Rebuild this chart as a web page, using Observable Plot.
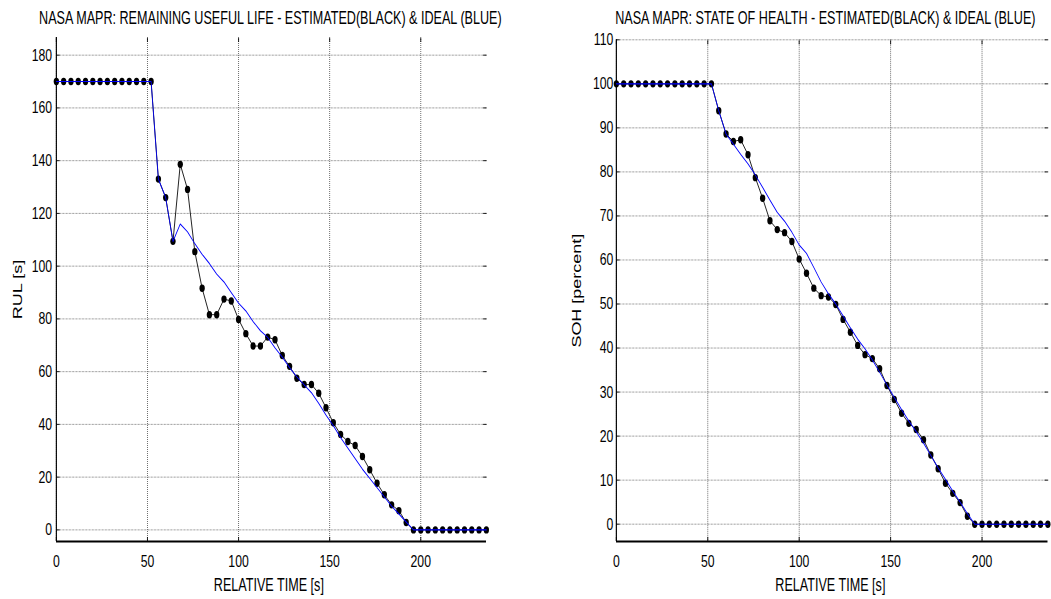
<!DOCTYPE html>
<html><head><meta charset="utf-8">
<script src="https://cdn.jsdelivr.net/npm/d3@7"></script>
<script src="https://cdn.jsdelivr.net/npm/@observablehq/plot@0.6"></script>
<style>
html,body{margin:0;padding:0;background:#fff;}
#root{position:relative;width:1051px;height:599px;overflow:hidden;background:#fff;}
.panel{position:absolute;top:0;transform-origin:0 0;}
</style></head><body><div id="root"></div>
<script>
// ---- data ----
const time = [0,4,8,12,16,20,24,28,32,36,40,44,48,52,56,60,64,68,72,76,80,84,88,92,96,100,104,108,112,116,120,124,128,132,136,140,144,148,152,156,160,164,168,172,176,180,184,188,192,196,200,204,208,212,216,220,224,228,232,236];

const rulEstimated = [170,170,170,170,170,170,170,170,170,170,170,170,170,170,
  133,126,109.4,138.6,129.1,105.5,91.6,81.6,81.6,87.5,86.8,79.8,74.4,69.7,69.7,73.1,72.1,66.1,62.0,57.5,55.1,55.1,51.8,46.3,40.6,36.2,33.5,32.0,27.8,22.8,17.7,13.3,9.5,7.3,2.8,
  0,0,0,0,0,0,0,0,0,0,0];
const rulIdeal = [170,170,170,170,170,170,170,170,170,170,170,170,170,170,
  133,126,109.4,116,113,108.5,104.5,101,97,94,90,86,83,79,75.5,73,69,65.5,61.5,58,55,52,48,43.5,39.5,35,31,27,23,19.5,16,12.5,9,6,3,
  0,0,0,0,0,0,0,0,0,0,0];
const sohEstimated = [100,100,100,100,100,100,100,100,100,100,100,100,100,100,
  93.9,88.6,86.9,87.3,83.9,78.7,74.0,68.9,66.9,66.2,64.2,60.2,57.0,53.6,51.9,51.6,49.9,46.5,43.6,40.6,38.5,37.6,35.3,31.5,28.3,25.2,22.9,21.5,19.2,15.7,12.6,9.3,7.0,4.9,1.8,
  0,0,0,0,0,0,0,0,0,0,0];
const sohIdeal = [100,100,100,100,100,100,100,100,100,100,100,100,100,100,
  93.9,88.6,86.3,84,81.8,79.3,76.5,73.6,70.8,68.8,66.3,63.4,61.5,58.3,55,52.3,50,47.3,44.6,42,39.8,37.3,34.5,31.6,28.8,26,23.4,21,18.4,15.6,12.8,10.2,7.5,5,2.4,
  0,0,0,0,0,0,0,0,0,0,0];

const xTicks = [0,50,100,150,200];
const rulTicks = [0,20,40,60,80,100,120,140,160,180];
const sohTicks = [0,10,20,30,40,50,60,70,80,90,100,110];

const rulTitle = "NASA MAPR: REMAINING USEFUL LIFE - ESTIMATED(BLACK) & IDEAL (BLUE)";
const sohTitle = "NASA MAPR: STATE OF HEALTH - ESTIMATED(BLACK) & IDEAL (BLUE)";
const xLabel = "RELATIVE TIME [s]";
const rulLabel = "RUL [s]";
const sohLabel = "SOH [percent]";

// ---- drawing ----
const K = 0.72; // horizontal compression of the original picture
const FONT = "'Liberation Sans', Arial, sans-serif";

function panel(o) {
  const rows = time.map((t, i) => ({t, est: o.est[i], ideal: o.ideal[i]}));
  const vw = o.screenWidth / K;
  const ml = o.screenPlotLeft / K;
  const mr = (o.screenWidth - o.screenPlotRight) / K;
  const frameCenter = (ml + (vw - mr)) / 2;
  const gridH = {stroke: "#666", strokeOpacity: 1, strokeWidth: 1, strokeDasharray: "1,1"};
  const gridV = {stroke: "#666", strokeOpacity: 1, strokeWidth: 1.3, strokeDasharray: "1,1"};
  const chart = Plot.plot({
    width: vw, height: 599,
    marginLeft: ml, marginRight: mr, marginTop: o.top, marginBottom: 599 - 541,
    style: {fontFamily: FONT, fontSize: "17px", background: "transparent", color: "black"},
    x: {domain: [0, 236]},
    y: {domain: o.yDomain},
    marks: [
      Plot.gridY(o.yTicks, gridH),
      Plot.gridX(xTicks, gridV),
      Plot.axisY(o.yTicks, {anchor: "left", tickSize: -5, tickPadding: o.yPad, label: null, fontSize: 17}),
      Plot.axisY(o.yTicks, {anchor: "right", tickSize: -5, tickFormat: () => "", label: null}),
      Plot.axisX(xTicks, {anchor: "bottom", tickSize: -4, tickPadding: 17.5, label: null, fontSize: 17}),
      Plot.axisX(xTicks, {anchor: "top", tickSize: -4, tickFormat: () => "", label: null}),
      Plot.ruleX([0], {stroke: "black", strokeWidth: 1.6}),
      Plot.ruleY([o.yDomain[0]], {stroke: "black", strokeWidth: 2}),
      Plot.line(rows, {x: "t", y: "est", stroke: "black", strokeWidth: 1}),
      Plot.dot(rows, {x: "t", y: "est", r: 3.7, fill: "black", stroke: "none"}),
      Plot.line(rows, {x: "t", y: "ideal", stroke: "#0000ff", strokeWidth: 1.1}),
      Plot.text([o.title], {text: d => d, frameAnchor: "top", textAnchor: "middle", lineAnchor: "bottom",
        dx: (o.titleCenter - o.screenLeft) / K - frameCenter, dy: 23.5 - o.top, fontSize: 17.5, fill: "black"}),
      Plot.text([xLabel], {text: d => d, frameAnchor: "bottom", textAnchor: "middle", lineAnchor: "bottom",
        dx: (o.xLabelCenter - o.screenLeft) / K - frameCenter, dy: 49.5, fontSize: 17.5, fill: "black"}),
      Plot.text([o.ylabel], {text: d => d, frameAnchor: "left", textAnchor: "middle", rotate: -90, lineAnchor: "middle",
        dx: (o.yLabelCenter - o.screenLeft) / K - ml, fontSize: 18, fill: "black"})
    ]
  });
  const div = document.createElement("div");
  div.className = "panel";
  div.style.left = o.screenLeft + "px";
  div.style.width = vw + "px";
  div.style.transform = `scaleX(${K})`;
  div.appendChild(chart);
  document.getElementById("root").appendChild(div);
}

panel({
  screenLeft: 0, screenWidth: 530, screenPlotLeft: 56, screenPlotRight: 486, top: 37,
  yDomain: [-4.4, 186.7], yTicks: rulTicks, yPad: 11,
  est: rulEstimated, ideal: rulIdeal,
  title: rulTitle, ylabel: rulLabel,
  titleCenter: 270, xLabelCenter: 268.5, yLabelCenter: 17.5
});
panel({
  screenLeft: 530, screenWidth: 521, screenPlotLeft: 86, screenPlotRight: 517.5, top: 39.3,
  yDomain: [-3.93, 110], yTicks: sohTicks, yPad: 9.2,
  est: sohEstimated, ideal: sohIdeal,
  title: sohTitle, ylabel: sohLabel,
  titleCenter: 825, xLabelCenter: 830, yLabelCenter: 576
});
</script></body></html>
